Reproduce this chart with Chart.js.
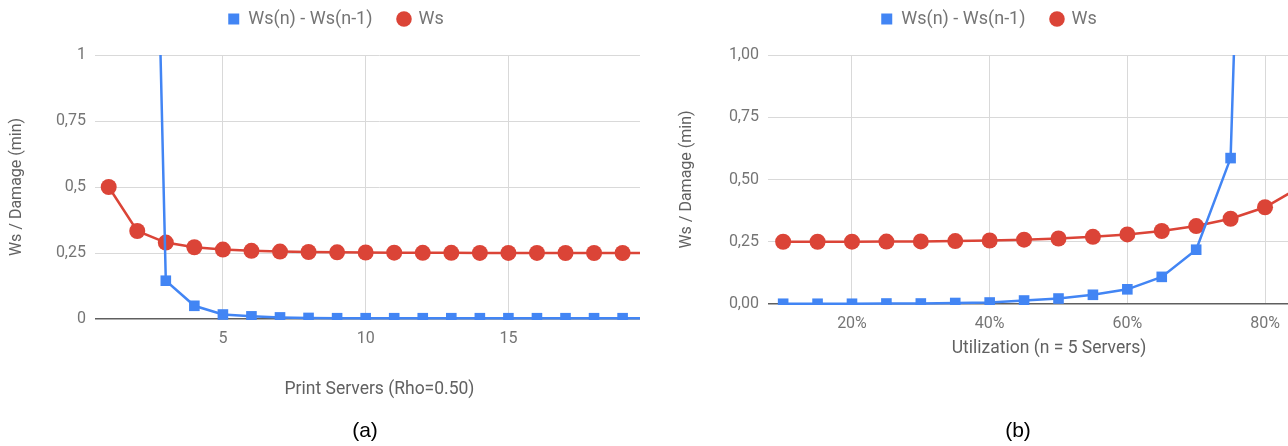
<!DOCTYPE html>
<html>
<head>
<meta charset="utf-8">
<script src="https://cdn.jsdelivr.net/npm/chart.js@4.4.1/dist/chart.umd.min.js"></script>
<style>
  html, body { margin: 0; padding: 0; background: #fff; }
  #wrap { position: relative; width: 1288px; height: 446px; overflow: hidden; }
  .panel { position: absolute; top: 0; height: 446px; overflow: hidden; }
  #pa { left: 0; width: 640px; }
  #pb { left: 640px; width: 648px; }
  .panel canvas { position: absolute; left: 0; top: 0; }
  .cap { position: absolute; top: 418px; width: 60px; text-align: center;
         font-family: "Liberation Sans", "DejaVu Sans", sans-serif; font-size: 21px; color: #000; }
</style>
</head>
<body>
<div id="wrap">
  <div class="panel" id="pa"><canvas id="chartA" width="672" height="446"></canvas></div>
  <div class="panel" id="pb"><canvas id="chartB" width="698" height="446"></canvas></div>
  <div class="cap" style="left:335px">(a)</div>
  <div class="cap" style="left:988px">(b)</div>
</div>
<script>
// (a) number of print servers at Rho = 0.50
const servers    = [1, 2, 3, 4, 5, 6, 7, 8, 9, 10, 11, 12, 13, 14, 15, 16, 17, 18, 19, 20, 21];
const wsServers  = [0.5, 0.3333, 0.2895, 0.2717, 0.2630, 0.2583, 0.2554, 0.2537, 0.2526, 0.2518, 0.2512,
                    0.2508, 0.2506, 0.2504, 0.2503, 0.2502, 0.2501, 0.2501, 0.2500, 0.2500, 0.2500];
const dWsServers = [null, 4.77, 0.145, 0.050, 0.017, 0.010, 0.006, 0.004, 0.003, 0.003, 0.003,
                    0.003, 0.003, 0.003, 0.003, 0.003, 0.003, 0.003, 0.003, 0.003, 0.003];

// (b) utilization with n = 5 servers, in percent
const utilization = [10, 15, 20, 25, 30, 35, 40, 45, 50, 55, 60, 65, 70, 75, 80, 85, 90];
const wsUtil      = [0.2500, 0.2500, 0.2502, 0.2506, 0.2514, 0.2528, 0.2550, 0.2583, 0.2630, 0.2699,
                     0.2795, 0.2932, 0.3130, 0.3424, 0.3885, 0.4682, 0.6310];
const dWsUtil     = [0.001, 0.001, 0.001, 0.002, 0.002, 0.004, 0.006, 0.014, 0.022, 0.037,
                     0.059, 0.109, 0.218, 0.586, 4.94, null, null];

// axis ticks
const yTickValues  = [0, 0.25, 0.5, 0.75, 1];
const yTickLabelsA = ['0', '0,25', '0,5', '0,75', '1'];
const yTickLabelsB = ['0,00', '0,25', '0,50', '0,75', '1,00'];
const xTickValuesA = [5, 10, 15];
const xTickLabelsA = ['5', '10', '15'];
const xTickValuesB = [20, 40, 60, 80];
const xTickLabelsB = ['20%', '40%', '60%', '80%'];

const seriesNames = ['Ws(n) - Ws(n-1)', 'Ws'];
const BLUE = '#4285F4';
const RED = '#DB4437';
const FONT = 'Roboto, "Liberation Sans", sans-serif';
const TICK_COLOR = '#757575';

function pairs(xs, ys) {
  return xs.map((x, i) => ({ x: x, y: ys[i] }));
}

// extra room between the legend and the plot area
const legendGap = {
  id: 'legendGap',
  beforeInit(chart, args, opts) {
    const fit = chart.legend.fit;
    chart.legend.fit = function () {
      fit.call(this);
      this.height += opts.extra || 0;
    };
  }
};

function makeChart(id, cfg) {
  return new Chart(document.getElementById(id), {
    type: 'line',
    data: {
      datasets: [
        {
          label: seriesNames[0],
          data: pairs(cfg.xs, cfg.blue),
          borderColor: BLUE,
          backgroundColor: BLUE,
          borderWidth: 2.5,
          pointStyle: 'rect',
          pointRadius: 7.5,
          pointBorderWidth: 0,
          pointHoverRadius: 7.5,
          tension: 0,
          clip: { left: 0, top: 0, right: 0, bottom: 1 }
        },
        {
          label: seriesNames[1],
          data: pairs(cfg.xs, cfg.red),
          borderColor: RED,
          backgroundColor: RED,
          borderWidth: 2.5,
          pointStyle: 'circle',
          pointRadius: 8,
          pointBorderWidth: 0,
          pointHoverRadius: 8,
          tension: 0,
          clip: { left: 0, top: 0, right: 0, bottom: 1 }
        }
      ]
    },
    options: {
      responsive: false,
      animation: false,
      events: [],
      layout: { padding: { top: -16, left: 0, right: 0, bottom: 0 } },
      plugins: {
        legendGap: { extra: 17 },
        tooltip: { enabled: false },
        legend: {
          position: 'top',
          labels: {
            usePointStyle: true,
            boxWidth: 11,
            boxHeight: 11,
            padding: 26,
            color: TICK_COLOR,
            font: { family: FONT, size: 18 }
          }
        }
      },
      scales: {
        x: {
          type: 'linear',
          min: cfg.xMin,
          max: cfg.xMax,
          afterFit(s) { s.height = cfg.xAxisHeight; },
          afterBuildTicks(s) { s.ticks = cfg.xTicks.map(v => ({ value: v })); },
          border: { display: false },
          grid: { color: '#d9d9d9', lineWidth: 1, drawTicks: false },
          ticks: {
            padding: 10,
            color: TICK_COLOR,
            font: { family: FONT, size: 16 },
            maxRotation: 0,
            callback: (v, i) => cfg.xLabels[i]
          },
          title: {
            display: true,
            text: cfg.xTitle,
            color: '#616161',
            font: { family: FONT, size: 17.5 },
            padding: { top: 0, bottom: cfg.xTitlePad }
          }
        },
        y: {
          min: 0,
          max: 1,
          afterFit(s) { s.width = cfg.yAxisWidth; },
          afterBuildTicks(s) { s.ticks = yTickValues.map(v => ({ value: v })); },
          border: { display: false },
          grid: {
            drawTicks: false,
            color: c => (c.tick && c.tick.value === 0 ? '#5f5f5f' : '#d9d9d9'),
            lineWidth: c => (c.tick && c.tick.value === 0 ? 1.5 : 1)
          },
          ticks: {
            padding: 9,
            color: TICK_COLOR,
            font: { family: FONT, size: 16 },
            callback: (v, i) => cfg.yLabels[i]
          },
          title: {
            display: true,
            text: 'Ws / Damage (min)',
            color: '#616161',
            font: { family: FONT, size: 16 },
            padding: { top: cfg.yTitlePad, bottom: 0 }
          }
        }
      }
    },
    plugins: [legendGap]
  });
}

makeChart('chartA', {
  xs: servers, red: wsServers, blue: dWsServers,
  xMin: 0.52, xMax: 20.45,
  xTicks: xTickValuesA, xLabels: xTickLabelsA,
  yLabels: yTickLabelsA,
  xTitle: 'Print Servers (Rho=0.50)',
  xAxisHeight: 127, xTitlePad: 46,
  yAxisWidth: 95, yTitlePad: 7
});

makeChart('chartB', {
  xs: utilization, red: wsUtil, blue: dWsUtil,
  xMin: 7.8, xMax: 89.44,
  xTicks: xTickValuesB, xLabels: xTickLabelsB,
  yLabels: yTickLabelsB,
  xTitle: 'Utilization (n = 5 Servers)',
  xAxisHeight: 142, xTitlePad: 87,
  yAxisWidth: 128, yTitlePad: 37
});
</script>
</body>
</html>
